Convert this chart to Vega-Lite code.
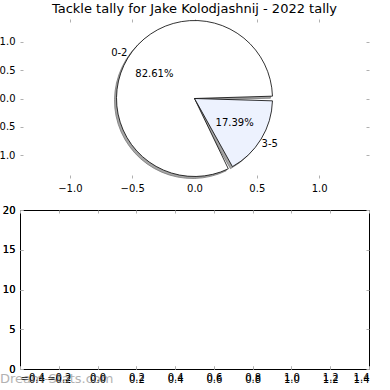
{
  "$schema": "https://vega.github.io/schema/vega-lite/v6.json",
  "autosize": {"type": "none"},
  "padding": {"left": 20, "top": 19, "right": 370, "bottom": 371},
  "bounds": "flush",
  "spacing": 32,
  "config": {
    "font": "DejaVu Sans",
    "view": {"stroke": null},
    "axis": {
      "grid": false,
      "domain": false,
      "ticks": true,
      "tickColor": "#b0b0b0",
      "tickWidth": 1,
      "tickSize": -3,
      "labelFont": "DejaVu Sans",
      "labelFontSize": 10,
      "labelColor": "black",
      "labelPadding": 8,
      "title": null
    }
  },
  "vconcat": [
    {
      "width": 349,
      "height": 159,
      "title": {"text": "Tackle tally for Jake Kolodjashnij - 2022 tally", "font": "DejaVu Sans", "fontSize": 13, "fontWeight": "normal", "color": "black", "offset": 3},
      "data": {"values": [
        {"tally": "0-2", "share": 0.8261},
        {"tally": "3-5", "share": 0.1739}
      ]},
      "encoding": {
        "theta": {"field": "share", "type": "quantitative", "stack": true, "scale": {"range": [1.5708, 7.854]}},
        "order": {"field": "tally", "sort": "descending"}
      },
      "layer": [
        {
          "mark": {"type": "arc", "radius": 78, "padAngle": 0.06, "fill": "#a6a6a6", "stroke": "#7a7a7a", "strokeWidth": 0.8, "xOffset": -2, "yOffset": 2},
          "encoding": {
            "x": {"datum": 0, "type": "quantitative", "scale": {"domain": [-1.25, 1.25]}, "axis": {"orient": "bottom", "values": [-1, -0.5, 0, 0.5, 1], "format": ".1f"}},
            "y": {"datum": 0, "type": "quantitative", "scale": {"domain": [-1.25, 1.25]}, "axis": {"orient": "left", "values": [-1, -0.5, 0, 0.5, 1], "format": ".1f"}}
          }
        },
        {
          "mark": {"type": "arc", "radius": 78, "padAngle": 0.06, "stroke": "black", "strokeWidth": 0.8},
          "encoding": {
            "x": {"datum": 0, "type": "quantitative", "axis": {"orient": "top", "values": [-1, -0.5, 0, 0.5, 1], "labels": false}},
            "y": {"datum": 0, "type": "quantitative", "axis": {"orient": "right", "values": [-1, -0.5, 0, 0.5, 1], "labels": false}},
            "color": {"field": "tally", "type": "nominal", "scale": {"domain": ["0-2", "3-5"], "range": ["#ffffff", "#edf2fe"]}, "legend": null}
          }
        },
        {
          "mark": {"type": "text", "radius": 88, "fontSize": 10, "color": "black"},
          "encoding": {"text": {"field": "tally", "type": "nominal"}}
        },
        {
          "mark": {"type": "text", "radius": 47, "fontSize": 10, "color": "black"},
          "encoding": {"text": {"field": "share", "type": "quantitative", "format": ".2%"}}
        }
      ],
      "resolve": {"axis": {"x": "independent", "y": "independent"}}
    },
    {
      "width": 349,
      "height": 159,
      "view": {"stroke": "black", "strokeWidth": 1},
      "layer": [
        {
          "data": {"values": []},
          "mark": {"type": "point", "opacity": 0},
          "encoding": {
            "x": {"field": "x", "type": "quantitative", "scale": {"domain": [-0.4, 1.4], "nice": false, "zero": false}, "axis": {"orient": "bottom", "values": [-0.4, -0.2, 0, 0.2, 0.4, 0.6, 0.8, 1.0, 1.2, 1.4], "format": ".1f", "labelPadding": 6}},
            "y": {"field": "y", "type": "quantitative", "scale": {"domain": [0, 20], "nice": false}, "axis": {"orient": "left", "values": [0, 5, 10, 15, 20], "format": "d"}}
          }
        },
        {
          "data": {"values": []},
          "mark": {"type": "point", "opacity": 0},
          "encoding": {
            "x": {"field": "x", "type": "quantitative", "axis": {"orient": "top", "values": [-0.4, -0.2, 0, 0.2, 0.4, 0.6, 0.8, 1.0, 1.2, 1.4], "labels": false}},
            "y": {"field": "y", "type": "quantitative", "axis": {"orient": "right", "values": [0, 5, 10, 15, 20], "labels": false}}
          }
        },
        {
          "data": {"values": [{"site": "Dream-Stats.com"}]},
          "mark": {"type": "text", "align": "left", "baseline": "alphabetic", "dx": -20, "dy": 14, "fontSize": 13, "color": "#808080", "opacity": 0.6},
          "encoding": {
            "x": {"datum": -0.4, "type": "quantitative"},
            "y": {"datum": 0, "type": "quantitative"},
            "text": {"field": "site", "type": "nominal"}
          }
        }
      ],
      "resolve": {"axis": {"x": "independent", "y": "independent"}}
    }
  ]
}
